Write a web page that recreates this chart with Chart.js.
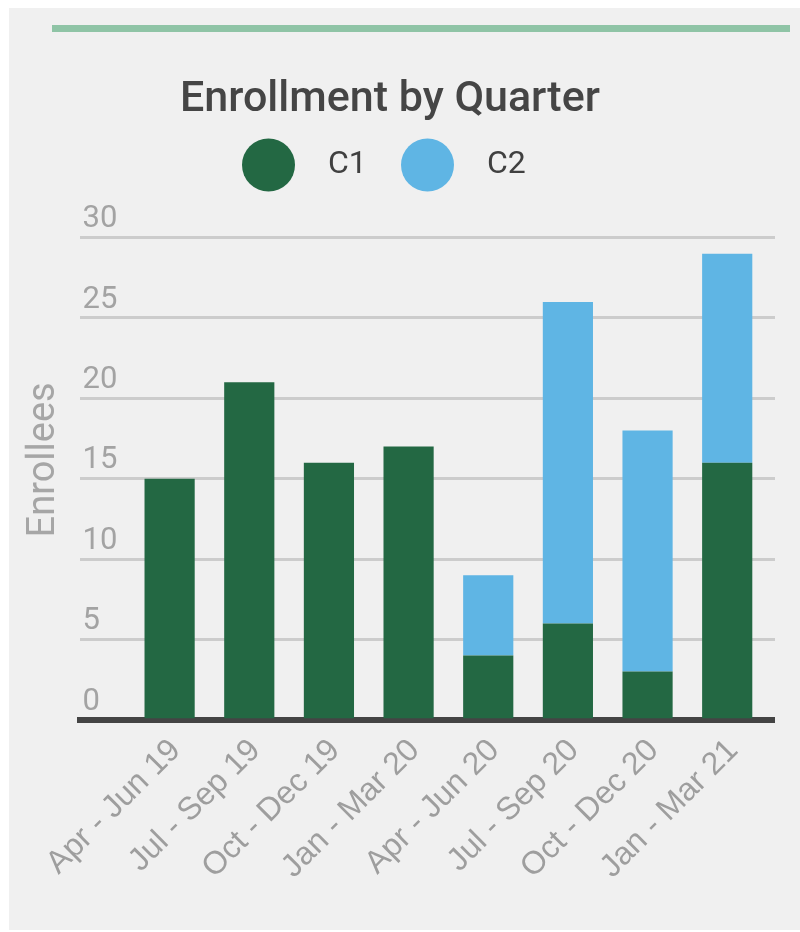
<!DOCTYPE html>
<html>
<head>
<meta charset="utf-8">
<script src="https://cdn.jsdelivr.net/npm/chart.js@4.4.1/dist/chart.umd.min.js"></script>
<style>
  html, body { margin: 0; padding: 0; background: #ffffff; }
  .card { position: absolute; left: 9px; top: 8px; width: 791px; height: 922px; background: #f0f0f0; }
  .accent { position: absolute; left: 52px; top: 25px; width: 738px; height: 7px; background: #8fc4a6; }
  #chart { position: absolute; left: 0; top: 0; }
</style>
</head>
<body>
<div class="card"></div>
<div class="accent"></div>
<canvas id="chart" width="800" height="932"></canvas>
<script>
const quarters = ['Apr - Jun 19', 'Jul - Sep 19', 'Oct - Dec 19', 'Jan - Mar 20',
                  'Apr - Jun 20', 'Jul - Sep 20', 'Oct - Dec 20', 'Jan - Mar 21'];
const c1Values = [15, 21, 16, 17, 4, 6, 3, 16];
const c2Values = [null, null, null, null, 5, 20, 15, 13];
const yTicks = [0, 5, 10, 15, 20, 25, 30];

// circles + labels above the plot, coloured from the datasets
const dotLegend = {
    id: 'dotLegend',
    afterDraw(chart, args, opts) {
        const ctx = chart.ctx;
        ctx.save();
        ctx.font = opts.font;
        ctx.textBaseline = 'middle';
        let x = opts.x;
        chart.data.datasets.forEach(function(ds) {
            ctx.fillStyle = ds.backgroundColor;
            ctx.beginPath();
            ctx.arc(x + opts.radius, opts.y, opts.radius, 0, Math.PI * 2);
            ctx.fill();
            ctx.fillStyle = opts.color;
            ctx.fillText(ds.label, x + opts.radius * 2 + opts.gap, opts.y);
            x += opts.spacing;
        });
        ctx.restore();
    }
};

const ctx = document.getElementById('chart').getContext('2d');
new Chart(ctx, {
    type: 'bar',
    data: {
        datasets: [{
            label: 'C1',
            data: c1Values.map((v, i) => ({ x: i, y: v })),
            backgroundColor: '#236843'
        }, {
            label: 'C2',
            data: c2Values.map((v, i) => ({ x: i, y: v })),
            backgroundColor: '#5fb5e4'
        }]
    },
    plugins: [dotLegend],
    options: {
        responsive: false,
        animation: false,
        barPercentage: 0.7,
        categoryPercentage: 0.9,
        layout: { padding: { top: 74, left: 5, right: 25, bottom: 34 } },
        plugins: {
            legend: { display: false },
            tooltip: { enabled: false },
            title: {
                display: true,
                text: 'Enrollment by Quarter',
                color: '#454545',
                font: { family: 'Roboto', size: 43, weight: '500' },
                padding: { top: 0, bottom: 112 }
            },
            dotLegend: {
                x: 242, y: 165, radius: 26.5, gap: 33, spacing: 159,
                font: '32px Roboto', color: '#404040'
            }
        },
        scales: {
            x: {
                type: 'linear',
                position: 'bottom',
                offset: false,
                stacked: true,
                min: -1.13,
                max: 7.6,
                z: 1,
                afterBuildTicks: axis => { axis.ticks = quarters.map((q, i) => ({ value: i })); },
                grid: { color: 'rgba(0,0,0,0)', lineWidth: 0, drawTicks: false },
                border: { display: true, color: '#444444', width: 6 },
                ticks: {
                    autoSkip: false,
                    minRotation: 45,
                    maxRotation: 45,
                    padding: 12,
                    labelOffset: 6,
                    color: '#9e9e9e',
                    font: { family: '"Liberation Sans", Arial, sans-serif', size: 32 },
                    callback: value => quarters[value]
                }
            },
            y: {
                stacked: true,
                min: 0,
                max: 30,
                afterBuildTicks: axis => { axis.ticks = yTicks.map(v => ({ value: v })); },
                grid: {
                    color: c => c.tick && c.tick.value === 0 ? 'rgba(0,0,0,0)' : '#cccccc',
                    lineWidth: 3,
                    drawTicks: false
                },
                border: { display: false },
                ticks: {
                    mirror: true,
                    padding: 3,
                    labelOffset: -18,
                    color: '#a3a3a3',
                    font: { family: 'Roboto', size: 31 }
                },
                title: {
                    display: true,
                    text: '    Enrollees',
                    color: '#a6a6a6',
                    font: { family: 'Roboto', size: 38 },
                    padding: { top: 17, bottom: 6 }
                }
            }
        }
    }
});
</script>
</body>
</html>
